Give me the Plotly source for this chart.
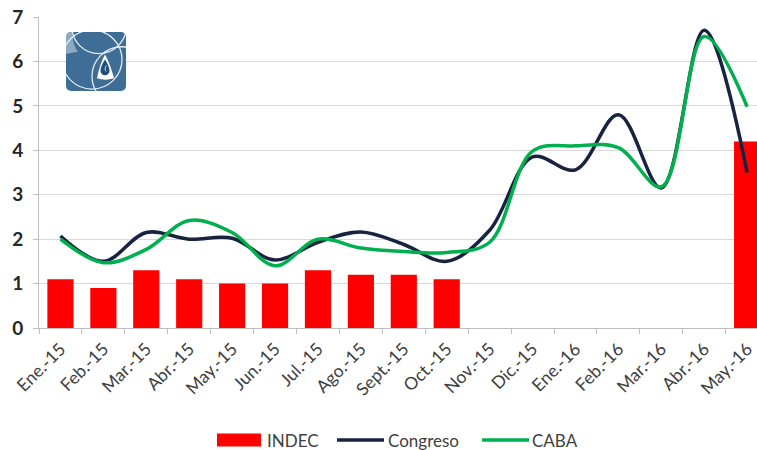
import base64
import plotly.graph_objects as go

# ---- data ----
months = ["Ene.-15", "Feb.-15", "Mar.-15", "Abr.-15", "May.-15", "Jun.-15", "Jul.-15",
          "Ago.-15", "Sept.-15", "Oct.-15", "Nov.-15", "Dic.-15", "Ene.-16", "Feb.-16",
          "Mar.-16", "Abr.-16", "May.-16"]
indec = [1.1, 0.9, 1.3, 1.1, 1.0, 1.0, 1.3, 1.2, 1.2, 1.1,
         None, None, None, None, None, None, 4.2]
congreso = [2.07, 1.5, 2.15, 2.0, 2.02, 1.53, 1.93, 2.16, 1.88, 1.5,
            2.2, 3.85, 3.56, 4.8, 3.15, 6.7, 3.5]
caba = [2.0, 1.47, 1.77, 2.42, 2.15, 1.4, 2.0, 1.8, 1.72, 1.7,
        1.93, 3.98, 4.1, 4.06, 3.18, 6.56, 4.98]
series_names = ["INDEC", "Congreso", "CABA"]
y_ticks = [0, 1, 2, 3, 4, 5, 6, 7]

# ---- colours / geometry ----
RED = "#FF0000"
NAVY = "#17233F"
GREEN = "#00B04F"
W, H = 757, 450
L, R, T, B = 39, 0, 17, 122
PW, PH = W - L - R, H - T - B


def px(xp):
    return (xp - L) / PW


def py(yp):
    return (H - B - yp) / PH


fig = go.Figure()
fig.add_trace(go.Bar(x=months, y=indec, name=series_names[0], marker_color=RED,
                     marker_line_width=0, showlegend=False))
fig.add_trace(go.Scatter(x=months, y=congreso, name=series_names[1], mode="lines",
                         line=dict(color=NAVY, width=3.5, shape="spline", smoothing=1.0),
                         showlegend=False))
fig.add_trace(go.Scatter(x=months, y=caba, name=series_names[2], mode="lines",
                         line=dict(color=GREEN, width=3.5, shape="spline", smoothing=1.0),
                         showlegend=False))

FONT = "Lato, 'Open Sans', Arial, sans-serif"

fig.update_layout(
    width=W, height=H,
    margin=dict(l=L, r=R, t=T, b=B, pad=0),
    plot_bgcolor="white", paper_bgcolor="white",
    bargap=0.39,
    font=dict(family=FONT, color="#404040"),
    xaxis=dict(type="category", range=[-0.5, 16.23], tickson="boundaries",
               ticks="outside", ticklen=5, tickcolor="#BFBFBF",
               showline=True, linecolor="#BFBFBF", linewidth=1,
               showgrid=False, tickangle=-45, ticklabelstandoff=3,
               tickfont=dict(size=17.5, color="#404040", family=FONT)),
    yaxis=dict(range=[0, 7], tickvals=y_ticks, ticks="outside", ticklen=5,
               tickcolor="#BFBFBF", showline=True, linecolor="#BFBFBF",
               gridcolor="#D9D9D9", gridwidth=1, zeroline=False,
               ticklabelstandoff=6,
               tickfont=dict(size=19, color="#262626", family=FONT, weight="bold")),
)

# ---- custom legend ----
ly = 440
fig.add_shape(type="rect", xref="paper", yref="paper",
              x0=px(217), x1=px(261), y0=py(446.5), y1=py(433.5),
              fillcolor=RED, line_width=0)
fig.add_shape(type="line", xref="paper", yref="paper",
              x0=px(337), x1=px(384), y0=py(ly), y1=py(ly),
              line=dict(color=NAVY, width=3.5))
fig.add_shape(type="line", xref="paper", yref="paper",
              x0=px(482), x1=px(529), y0=py(ly), y1=py(ly),
              line=dict(color=GREEN, width=3.5))
for xpos, txt in [(265, series_names[0]), (386, series_names[1]), (530, series_names[2])]:
    fig.add_annotation(x=px(xpos), y=py(ly), xref="paper", yref="paper",
                       text=txt, showarrow=False, xanchor="left", yanchor="middle",
                       font=dict(size=17, color="#404040", family=FONT))

# ---- logo (decorative) ----
svg = """<svg xmlns='http://www.w3.org/2000/svg' width='60' height='60' viewBox='0 0 60 60'>
<defs><clipPath id='c'><rect width='60' height='60' rx='5'/></clipPath></defs>
<rect width='60' height='60' rx='5' fill='#3E6D95'/>
<g clip-path='url(#c)'>
<path d='M0,0 L6.5,0 C6.5,8 8,15 12,20 L0,22 Z' fill='#8DAAC4'/>
<g fill='none' stroke='#E4ECF3' stroke-width='1.3'>
<circle cx='33' cy='-5' r='27'/>
<circle cx='26' cy='28' r='30'/>
<circle cx='56' cy='45' r='30'/>
</g>
<path d='M39,23 Q44,32 48,47 Q39.5,50 31,47 Q34,32 39,23 Z' fill='white'/>
<path d='M39,28 C36,33 34.5,36 34.5,39.5 A4.5,4.5 0 0 0 43.5,39.5 C43.5,36 42,33 39,28 Z' fill='#1F4F7A'/>
<path d='M40.5,34 C39,36 38.5,38 40,40' fill='none' stroke='white' stroke-width='0.8'/>
</g>
</svg>"""
src = "data:image/svg+xml;base64," + base64.b64encode(svg.encode()).decode()
fig.add_layout_image(dict(source=src, xref="paper", yref="paper",
                          x=px(66), y=py(32), sizex=60 / PW, sizey=59 / PH,
                          xanchor="left", yanchor="top", sizing="stretch",
                          layer="above"))

fig.write_html("out.html", config={"displayModeBar": False},
               post_script="document.body.style.margin='0';document.body.style.padding='0';")
